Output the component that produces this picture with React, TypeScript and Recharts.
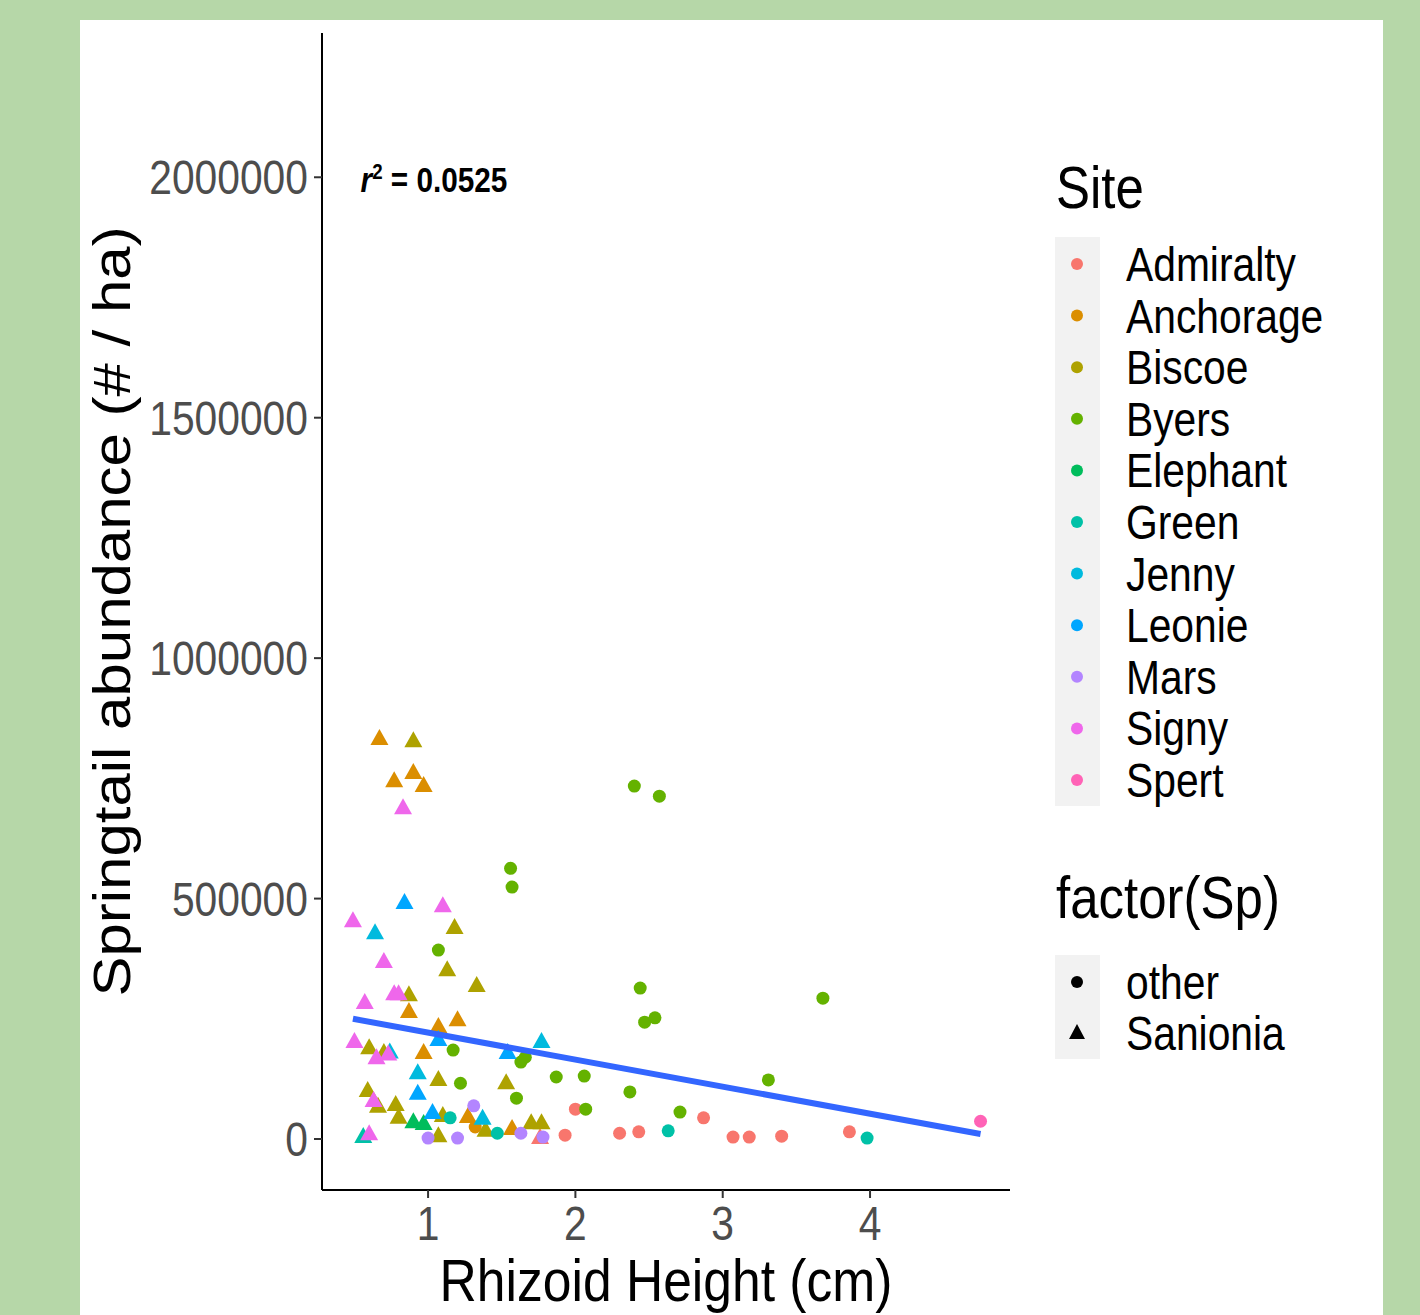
import {
  ScatterChart,
  Scatter,
  XAxis,
  YAxis,
  Legend,
  ReferenceDot,
} from "recharts";

const FONT = "'Liberation Sans', Arial, sans-serif";
const SQUASH = 0.85;

// data
const admiralty = [
  { x: 2.0, y: 62000, sp: "other" },
  { x: 1.93, y: 8000, sp: "other" },
  { x: 2.3, y: 12000, sp: "other" },
  { x: 2.43, y: 15000, sp: "other" },
  { x: 2.87, y: 44000, sp: "other" },
  { x: 3.07, y: 4000, sp: "other" },
  { x: 3.18, y: 4000, sp: "other" },
  { x: 3.4, y: 6000, sp: "other" },
  { x: 3.86, y: 15000, sp: "other" },
  { x: 1.76, y: 2000, sp: "Sanionia" },
];
const anchorage = [
  { x: 0.67, y: 832000, sp: "Sanionia" },
  { x: 0.9, y: 761000, sp: "Sanionia" },
  { x: 0.77, y: 744000, sp: "Sanionia" },
  { x: 0.97, y: 734000, sp: "Sanionia" },
  { x: 0.87, y: 264000, sp: "Sanionia" },
  { x: 1.2, y: 247000, sp: "Sanionia" },
  { x: 1.07, y: 233000, sp: "Sanionia" },
  { x: 0.97, y: 179000, sp: "Sanionia" },
  { x: 1.27, y: 46000, sp: "Sanionia" },
  { x: 1.57, y: 21000, sp: "Sanionia" },
  { x: 1.32, y: 25000, sp: "other" },
];
const biscoe = [
  { x: 0.9, y: 827000, sp: "Sanionia" },
  { x: 1.18, y: 439000, sp: "Sanionia" },
  { x: 1.13, y: 351000, sp: "Sanionia" },
  { x: 1.33, y: 318000, sp: "Sanionia" },
  { x: 0.87, y: 299000, sp: "Sanionia" },
  { x: 0.6, y: 189000, sp: "Sanionia" },
  { x: 0.7, y: 179000, sp: "Sanionia" },
  { x: 1.07, y: 123000, sp: "Sanionia" },
  { x: 1.53, y: 116000, sp: "Sanionia" },
  { x: 0.59, y: 100000, sp: "Sanionia" },
  { x: 0.66, y: 67000, sp: "Sanionia" },
  { x: 0.78, y: 71000, sp: "Sanionia" },
  { x: 0.8, y: 44000, sp: "Sanionia" },
  { x: 1.1, y: 48000, sp: "Sanionia" },
  { x: 1.39, y: 17000, sp: "Sanionia" },
  { x: 1.7, y: 33000, sp: "Sanionia" },
  { x: 1.77, y: 33000, sp: "Sanionia" },
  { x: 1.07, y: 6000, sp: "Sanionia" },
];
const byers = [
  { x: 2.4, y: 734000, sp: "other" },
  { x: 2.57, y: 713000, sp: "other" },
  { x: 1.56, y: 563000, sp: "other" },
  { x: 1.57, y: 524000, sp: "other" },
  { x: 1.07, y: 393000, sp: "other" },
  { x: 3.68, y: 293000, sp: "other" },
  { x: 2.44, y: 314000, sp: "other" },
  { x: 2.47, y: 243000, sp: "other" },
  { x: 2.54, y: 252000, sp: "other" },
  { x: 1.17, y: 185000, sp: "other" },
  { x: 1.63, y: 160000, sp: "other" },
  { x: 1.66, y: 170000, sp: "other" },
  { x: 1.22, y: 116000, sp: "other" },
  { x: 1.87, y: 129000, sp: "other" },
  { x: 1.6, y: 85000, sp: "other" },
  { x: 2.06, y: 131000, sp: "other" },
  { x: 2.37, y: 98000, sp: "other" },
  { x: 3.31, y: 123000, sp: "other" },
  { x: 2.07, y: 62000, sp: "other" },
  { x: 2.71, y: 56000, sp: "other" },
];
const elephant = [
  { x: 0.9, y: 35000, sp: "Sanionia" },
  { x: 0.97, y: 31000, sp: "Sanionia" },
];
const green = [
  { x: 0.56, y: 4000, sp: "Sanionia" },
  { x: 1.15, y: 44000, sp: "other" },
  { x: 1.47, y: 12000, sp: "other" },
  { x: 2.63, y: 17000, sp: "other" },
  { x: 3.98, y: 2000, sp: "other" },
];
const jenny = [
  { x: 0.64, y: 428000, sp: "Sanionia" },
  { x: 1.77, y: 202000, sp: "Sanionia" },
  { x: 0.93, y: 137000, sp: "Sanionia" },
  { x: 1.37, y: 42000, sp: "Sanionia" },
  { x: 0.74, y: 180000, sp: "Sanionia" },
];
const leonie = [
  { x: 0.84, y: 491000, sp: "Sanionia" },
  { x: 1.07, y: 206000, sp: "Sanionia" },
  { x: 1.54, y: 179000, sp: "Sanionia" },
  { x: 0.93, y: 94000, sp: "Sanionia" },
  { x: 1.03, y: 54000, sp: "Sanionia" },
];
const mars = [
  { x: 1.31, y: 69000, sp: "other" },
  { x: 1.63, y: 12000, sp: "other" },
  { x: 1.78, y: 4000, sp: "other" },
  { x: 1.0, y: 2000, sp: "other" },
  { x: 1.2, y: 2000, sp: "other" },
];
const signy = [
  { x: 0.83, y: 688000, sp: "Sanionia" },
  { x: 1.1, y: 484000, sp: "Sanionia" },
  { x: 0.49, y: 453000, sp: "Sanionia" },
  { x: 0.7, y: 368000, sp: "Sanionia" },
  { x: 0.57, y: 283000, sp: "Sanionia" },
  { x: 0.77, y: 301000, sp: "Sanionia" },
  { x: 0.8, y: 301000, sp: "Sanionia" },
  { x: 0.5, y: 202000, sp: "Sanionia" },
  { x: 0.65, y: 168000, sp: "Sanionia" },
  { x: 0.73, y: 176000, sp: "Sanionia" },
  { x: 0.63, y: 79000, sp: "Sanionia" },
  { x: 0.6, y: 10000, sp: "Sanionia" },
];
const spert = [{ x: 4.75, y: 37000, sp: "other" }];

const siteNames = [
  "Admiralty", "Anchorage", "Biscoe", "Byers", "Elephant", "Green",
  "Jenny", "Leonie", "Mars", "Signy", "Spert",
];
const siteData = [
  admiralty, anchorage, biscoe, byers, elephant, green,
  jenny, leonie, mars, signy, spert,
];
const siteColors = [
  "#F8766D", "#DB8E00", "#AEA200", "#64B200", "#00BD5C", "#00C1A7",
  "#00BADE", "#00A6FF", "#B385FF", "#EF67EB", "#FF63B6",
];
const spNames = ["other", "Sanionia"];

// fitted line ends (lm)
const fitLine = [
  { x: 0.49, y: 250000 },
  { x: 4.75, y: 10500 },
];
const r2Label = { x: 1.04, y: 2000000, text: "0.0525" };

const xTicks = [1, 2, 3, 4];
const yTicks = [0, 500000, 1000000, 1500000, 2000000];

const Mark = ({ cx, cy, payload, fill }: any) => {
  if (cx == null || cy == null) return <g />;
  if (payload.sp === "Sanionia") {
    return (
      <polygon
        points={`${cx},${cy - 10} ${cx - 9},${cy + 6} ${cx + 9},${cy + 6}`}
        fill={fill}
      />
    );
  }
  return <circle cx={cx} cy={cy} r={6.5} fill={fill} />;
};

const YTick = ({ x, y, payload }: any) => (
  <text
    transform={`translate(${x},${y + 17}) scale(${SQUASH},1)`}
    textAnchor="end"
    fontSize={48}
    fontFamily={FONT}
    fill="#4D4D4D"
  >
    {payload.value}
  </text>
);

const XTick = ({ x, y, payload }: any) => (
  <text
    transform={`translate(${x},${y + 34}) scale(${SQUASH},1)`}
    textAnchor="middle"
    fontSize={48}
    fontFamily={FONT}
    fill="#4D4D4D"
  >
    {payload.value}
  </text>
);

const XTitle = ({ viewBox, value }: any) => (
  <text
    transform={`translate(${viewBox.x + viewBox.width / 2},${viewBox.y + 111}) scale(0.86,1)`}
    textAnchor="middle"
    fontSize={60}
    fontFamily={FONT}
    fill="#000"
  >
    {value}
  </text>
);

const YTitle = ({ viewBox, value }: any) => (
  <text
    transform={`translate(${viewBox.x + 48},${viewBox.y + viewBox.height / 2}) scale(0.86,1) rotate(-90)`}
    textAnchor="middle"
    fontSize={60}
    fontFamily={FONT}
    fill="#000"
  >
    {value}
  </text>
);

const R2 = ({ viewBox }: any) => {
  const cx = viewBox.x + viewBox.width / 2;
  const cy = viewBox.y + viewBox.height / 2;
  return (
    <text
      transform={`translate(${cx},${cy + 15}) scale(${SQUASH},1)`}
      textAnchor="middle"
      fontSize={35}
      fontWeight="bold"
      fontFamily={FONT}
      fill="#000"
    >
      <tspan fontStyle="italic">r</tspan>
      <tspan dy={-13} fontSize={22}>2</tspan>
      <tspan dy={13}>{` = ${r2Label.text}`}</tspan>
    </text>
  );
};

const LegendBox = () => {
  const ox = 1040;
  const oy = 140;
  const rowH = 51.6;
  const label = (x: number, y: number, txt: string, size: number) => (
    <text
      transform={`translate(${x},${y}) scale(${SQUASH},1)`}
      fontSize={size}
      fontFamily={FONT}
      fill="#000"
    >
      {txt}
    </text>
  );
  return (
    <svg width={360} height={940} style={{ display: "block" }}>
      <g transform={`translate(${-ox},${-oy})`}>
        {label(1056, 208, "Site", 60)}
        <rect x={1055} y={237} width={45} height={569} fill="#F2F2F2" />
        {siteNames.map((n, i) => (
          <g key={n}>
            <circle cx={1077} cy={264 + rowH * i} r={6} fill={siteColors[i]} />
            {label(1126, 264 + rowH * i + 17, n, 48)}
          </g>
        ))}
        {label(1056, 918, "factor(Sp)", 60)}
        <rect x={1055} y={955} width={45} height={104} fill="#F2F2F2" />
        <circle cx={1077} cy={982} r={6} fill="#000" />
        <polygon points="1077,1024 1069,1039 1085,1039" fill="#000" />
        {spNames.map((n, i) => label(1126, 982 + 51 * i + 17, n, 48))}
      </g>
    </svg>
  );
};

export default function App() {
  return (
    <div
      style={{
        position: "absolute",
        left: 0,
        top: 0,
        width: 1420,
        height: 1315,
        background: "#b6d7a8",
        overflow: "hidden",
      }}
    >
      <div
        style={{
          position: "absolute",
          left: 80,
          top: 20,
          width: 1303,
          height: 1295,
          background: "#fff",
        }}
      />
      <div style={{ position: "absolute", left: 0, top: 0 }}>
        <ScatterChart
          width={1420}
          height={1315}
          margin={{ top: 33, right: 410, bottom: 5, left: 82 }}
        >
          <XAxis
            type="number"
            dataKey="x"
            domain={[0.28, 4.95]}
            ticks={xTicks}
            allowDataOverflow
            height={120}
            tickSize={8}
            tickMargin={8}
            axisLine={{ stroke: "#000", strokeWidth: 2 }}
            tickLine={{ stroke: "#333", strokeWidth: 2 }}
            tick={<XTick />}
            label={{ value: "Rhizoid Height (cm)", content: XTitle }}
          />
          <YAxis
            type="number"
            dataKey="y"
            domain={[-106000, 2300000]}
            ticks={yTicks}
            allowDataOverflow
            width={240}
            tickSize={8}
            tickMargin={6}
            axisLine={{ stroke: "#000", strokeWidth: 2 }}
            tickLine={{ stroke: "#333", strokeWidth: 2 }}
            tick={<YTick />}
            label={{ value: "Springtail abundance (# / ha)", content: YTitle }}
          />
          <Legend
            layout="vertical"
            align="center"
            verticalAlign="middle"
            wrapperStyle={{ left: 1040, top: 140, width: 360, height: 940 }}
            content={() => <LegendBox />}
          />
          {siteNames.map((n, i) => (
            <Scatter
              key={n}
              name={n}
              data={siteData[i]}
              fill={siteColors[i]}
              isAnimationActive={false}
              shape={(p: any) => <Mark {...p} fill={siteColors[i]} />}
            />
          ))}
          <Scatter
            name="fit"
            data={fitLine}
            line={{ stroke: "#3366FF", strokeWidth: 6 }}
            shape={() => <g />}
            legendType="none"
            isAnimationActive={false}
          />
          <ReferenceDot
            x={r2Label.x}
            y={r2Label.y}
            r={0}
            fill="none"
            stroke="none"
            label={{ content: R2 }}
          />
        </ScatterChart>
      </div>
    </div>
  );
}
